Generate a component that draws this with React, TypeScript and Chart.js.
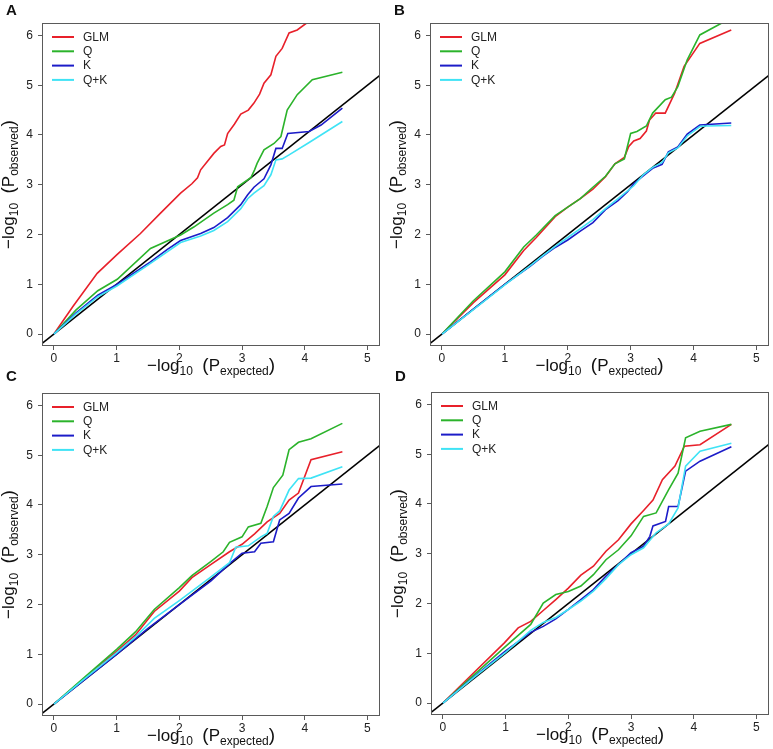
import React, { useEffect, useRef } from "react";
import { Chart, registerables } from "chart.js";

Chart.register(...registerables);

// ---------------- data (expected, observed) ----------------
const seriesNames = ["GLM", "Q", "K", "Q+K"];
const seriesColors = ["#e8202a", "#2bb32b", "#1c1cc8", "#3fe3f5"];
const xTicks = [0, 1, 2, 3, 4, 5];
const yTicks = [0, 1, 2, 3, 4, 5, 6];
const panelLetters = ["A", "B", "C", "D"];

const A_GLM = [[0,0],[0.3,0.55],[0.69,1.22],[1.01,1.6],[1.38,2.02],[1.7,2.43],[2.02,2.83],[2.2,3.02],[2.29,3.14],[2.34,3.3],[2.55,3.63],[2.66,3.77],[2.72,3.8],[2.77,4.03],[2.88,4.22],[2.98,4.42],[3.1,4.5],[3.19,4.64],[3.28,4.82],[3.35,5.04],[3.46,5.21],[3.54,5.58],[3.64,5.74],[3.75,6.05],[3.88,6.11],[4.04,6.26],[4.6,6.7]];
const A_Q = [[0,0],[0.35,0.48],[0.7,0.87],[1.01,1.1],[1.54,1.72],[2.02,1.99],[2.23,2.15],[2.55,2.43],[2.77,2.6],[2.87,2.69],[2.93,2.96],[3.14,3.14],[3.2,3.3],[3.24,3.43],[3.35,3.7],[3.51,3.83],[3.62,3.97],[3.72,4.5],[3.88,4.81],[4.12,5.11],[4.6,5.26]];
const A_K = [[0,0],[0.35,0.42],[0.7,0.78],[1.01,1.0],[1.54,1.45],[1.81,1.7],[2.02,1.88],[2.34,2.02],[2.55,2.14],[2.77,2.34],[2.98,2.6],[3.09,2.8],[3.19,2.95],[3.35,3.12],[3.46,3.4],[3.54,3.73],[3.64,3.73],[3.73,4.03],[4.07,4.07],[4.26,4.2],[4.6,4.54]];
const A_QK = [[0,0],[0.35,0.4],[0.7,0.75],[1.01,0.97],[1.54,1.42],[2.02,1.84],[2.34,1.97],[2.55,2.08],[2.77,2.26],[2.98,2.52],[3.09,2.72],[3.19,2.83],[3.35,2.98],[3.46,3.2],[3.54,3.5],[3.64,3.52],[3.75,3.6],[4.07,3.85],[4.6,4.27]];

const B_GLM = [[0,0],[0.5,0.63],[1.0,1.19],[1.3,1.68],[1.5,1.94],[1.8,2.36],[2.0,2.55],[2.2,2.72],[2.4,2.91],[2.6,3.16],[2.75,3.42],[2.9,3.55],[2.97,3.77],[3.05,3.88],[3.15,3.93],[3.25,4.08],[3.3,4.3],[3.4,4.44],[3.55,4.44],[3.7,4.84],[3.85,5.38],[4.1,5.84],[4.6,6.11]];
const B_Q = [[0,0],[0.5,0.67],[1.0,1.25],[1.3,1.75],[1.5,1.99],[1.8,2.38],[2.0,2.55],[2.2,2.72],[2.4,2.95],[2.6,3.17],[2.75,3.42],[2.9,3.52],[3.0,4.03],[3.1,4.07],[3.25,4.18],[3.35,4.44],[3.55,4.71],[3.65,4.76],[3.75,4.97],[3.9,5.51],[4.1,6.01],[4.45,6.25],[4.6,6.35]];
const B_K = [[0,0],[0.5,0.5],[1.0,1.0],[1.4,1.36],[1.6,1.56],[1.8,1.74],[2.0,1.89],[2.2,2.07],[2.4,2.24],[2.6,2.5],[2.8,2.68],[2.95,2.86],[3.05,3.02],[3.2,3.18],[3.35,3.33],[3.5,3.41],[3.6,3.66],[3.75,3.76],[3.9,4.02],[4.1,4.2],[4.6,4.24]];
const B_QK = [[0,0],[0.5,0.49],[1.0,0.99],[1.4,1.37],[1.6,1.57],[1.8,1.76],[2.0,1.94],[2.2,2.12],[2.4,2.3],[2.6,2.52],[2.8,2.72],[3.05,2.98],[3.2,3.2],[3.35,3.35],[3.5,3.45],[3.6,3.64],[3.75,3.74],[3.9,3.98],[4.1,4.17],[4.2,4.18],[4.6,4.19]];

const C_GLM = [[0,0],[0.5,0.53],[1.0,1.06],[1.3,1.39],[1.6,1.86],[2.0,2.27],[2.2,2.54],[2.5,2.8],[2.8,3.06],[3.0,3.21],[3.2,3.42],[3.4,3.66],[3.6,3.83],[3.75,4.1],[3.9,4.24],[4.1,4.91],[4.6,5.07]];
const C_Q = [[0,0],[0.5,0.55],[1.0,1.1],[1.3,1.45],[1.6,1.9],[2.0,2.34],[2.2,2.58],[2.5,2.86],[2.7,3.06],[2.8,3.25],[3.0,3.36],[3.1,3.56],[3.3,3.63],[3.4,3.97],[3.5,4.35],[3.65,4.6],[3.75,5.11],[3.9,5.26],[4.1,5.33],[4.6,5.64]];
const C_K = [[0,0],[0.5,0.5],[1.0,1.0],[1.5,1.52],[2.0,2.0],[2.5,2.47],[2.8,2.82],[3.0,3.03],[3.2,3.06],[3.3,3.23],[3.5,3.26],[3.6,3.7],[3.75,3.83],[3.9,4.14],[4.1,4.37],[4.6,4.42]];
const C_QK = [[0,0],[0.5,0.52],[1.0,1.03],[1.3,1.35],[1.6,1.72],[2.0,2.08],[2.5,2.55],[2.8,2.84],[2.9,3.15],[3.1,3.18],[3.3,3.36],[3.4,3.43],[3.5,3.77],[3.6,3.88],[3.75,4.3],[3.9,4.53],[4.1,4.54],[4.6,4.77]];

const D_GLM = [[0,0],[0.5,0.62],[0.98,1.21],[1.2,1.51],[1.4,1.64],[1.6,1.86],[1.8,2.08],[2.0,2.31],[2.2,2.57],[2.4,2.75],[2.6,3.05],[2.8,3.28],[3.0,3.6],[3.2,3.87],[3.35,4.08],[3.5,4.49],[3.7,4.76],[3.85,5.16],[4.1,5.19],[4.6,5.6]];
const D_Q = [[0,0],[0.5,0.57],[1.0,1.14],[1.4,1.58],[1.6,2.01],[1.8,2.18],[2.0,2.24],[2.2,2.35],[2.4,2.58],[2.6,2.88],[2.8,3.08],[3.0,3.36],[3.2,3.75],[3.4,3.82],[3.6,4.29],[3.75,4.62],[3.87,5.33],[4.1,5.46],[4.6,5.6]];
const D_K = [[0,0],[0.5,0.53],[1.0,1.05],[1.4,1.42],[1.6,1.54],[1.8,1.69],[2.0,1.88],[2.2,2.08],[2.4,2.28],[2.6,2.55],[2.8,2.78],[3.0,3.02],[3.2,3.15],[3.3,3.35],[3.35,3.56],[3.55,3.65],[3.6,3.95],[3.75,3.95],[3.87,4.66],[4.1,4.86],[4.6,5.15]];
const D_QK = [[0,0],[0.5,0.52],[1.0,1.02],[1.4,1.46],[1.6,1.62],[1.8,1.72],[2.0,1.88],[2.2,2.05],[2.4,2.25],[2.6,2.5],[2.8,2.78],[3.0,2.98],[3.2,3.12],[3.4,3.42],[3.6,3.6],[3.75,3.92],[3.87,4.76],[4.1,5.06],[4.6,5.22]];

const panelSeries = [
  [A_GLM, A_Q, A_K, A_QK],
  [B_GLM, B_Q, B_K, B_QK],
  [C_GLM, C_Q, C_K, C_QK],
  [D_GLM, D_Q, D_K, D_QK],
];
const diagonal = [[-0.5, -0.5], [5.5, 5.5]];

// ---------------- layout ----------------
const FONT = '"Liberation Sans", Arial, Helvetica, sans-serif';
const boxes = [
  { left: 42, top: 23, width: 338, height: 323, letterY: 15 },
  { left: 430, top: 23, width: 339, height: 323, letterY: 15 },
  { left: 42, top: 393, width: 338, height: 323, letterY: 381 },
  { left: 431, top: 392, width: 338, height: 323, letterY: 381 },
];
const PAD_L = 42, PAD_T = 23, PAD_R = 6, PAD_B = 10, X_AX_H = 24;

type Part = { t: string; s: number; dy?: number };

function drawRich(ctx: CanvasRenderingContext2D, parts: Part[], cx: number, baseY: number) {
  let total = 0;
  for (const p of parts) {
    ctx.font = `${p.s}px ${FONT}`;
    total += ctx.measureText(p.t).width;
  }
  let x = cx - total / 2;
  ctx.textAlign = "left";
  ctx.textBaseline = "alphabetic";
  for (const p of parts) {
    ctx.font = `${p.s}px ${FONT}`;
    ctx.fillText(p.t, x, baseY + (p.dy || 0));
    x += ctx.measureText(p.t).width;
  }
}

function titleParts(sub: string): Part[] {
  return [
    { t: "\u2212log", s: 17 },
    { t: "10", s: 12, dy: 4 },
    { t: "  ", s: 17 },
    { t: "(", s: 19 },
    { t: "P", s: 17 },
    { t: sub, s: 12, dy: 4 },
    { t: ")", s: 19 },
  ];
}

function Panel({ idx }: { idx: number }) {
  const ref = useRef<HTMLCanvasElement>(null);
  const box = boxes[idx];
  const cw = box.width + PAD_L + PAD_R;
  const ch = box.height + PAD_T + X_AX_H + PAD_B;
  const cLeft = box.left - PAD_L;
  const cTop = box.top - PAD_T;

  useEffect(() => {
    if (!ref.current) return;
    const series = panelSeries[idx];
    const datasets: any[] = series.map((pts, i) => ({
      label: seriesNames[i],
      data: pts.map(([x, y]) => ({ x, y })),
      borderColor: seriesColors[i],
      backgroundColor: seriesColors[i],
      borderWidth: 1.6,
      pointRadius: 0,
      tension: 0,
      order: 3 - i,
    }));
    datasets.push({
      label: "diag",
      data: diagonal.map(([x, y]) => ({ x, y })),
      borderColor: "#000",
      borderWidth: 1.6,
      pointRadius: 0,
      order: 10,
    });

    const decor = {
      id: "decor",
      afterDraw(chart: any) {
        const ctx = chart.ctx as CanvasRenderingContext2D;
        const a = chart.chartArea;
        ctx.save();
        // box
        ctx.strokeStyle = "#5a5a5a";
        ctx.lineWidth = 1;
        ctx.strokeRect(a.left + 0.5, a.top + 0.5, a.right - a.left - 1, a.bottom - a.top - 1);
        // legend
        ctx.lineWidth = 2;
        for (let i = 0; i < seriesNames.length; i++) {
          const y = a.top + 14 + i * 14.3;
          ctx.strokeStyle = seriesColors[i];
          ctx.beginPath();
          ctx.moveTo(a.left + 10, y);
          ctx.lineTo(a.left + 32, y);
          ctx.stroke();
          ctx.fillStyle = "#222";
          ctx.font = `12px ${FONT}`;
          ctx.textAlign = "left";
          ctx.textBaseline = "middle";
          ctx.fillText(seriesNames[i], a.left + 41, y + 0.5);
        }
        // panel letter
        ctx.fillStyle = "#111";
        ctx.font = `bold 15px ${FONT}`;
        ctx.textAlign = "left";
        ctx.textBaseline = "alphabetic";
        ctx.fillText(panelLetters[idx], a.left - 36, box.letterY - cTop);
        // x title
        ctx.fillStyle = "#111";
        drawRich(ctx, titleParts("expected"), (a.left + a.right) / 2, a.bottom + 25);
        // y title
        ctx.translate(a.left - 28, (a.top + a.bottom) / 2);
        ctx.rotate(-Math.PI / 2);
        drawRich(ctx, titleParts("observed"), 0, 0);
        ctx.restore();
      },
    };

    const tickFont = { family: FONT, size: 12 };
    const chart = new Chart(ref.current, {
      type: "line",
      data: { datasets },
      options: {
        animation: false,
        responsive: false,
        maintainAspectRatio: false,
        layout: { padding: { left: 0, top: PAD_T, right: PAD_R, bottom: PAD_B } },
        plugins: { legend: { display: false }, tooltip: { enabled: false } },
        scales: {
          x: {
            type: "linear",
            min: -0.19,
            max: 5.2,
            afterBuildTicks: (s: any) => { s.ticks = xTicks.map((v) => ({ value: v })); },
            afterFit: (s: any) => { s.height = X_AX_H; },
            ticks: { font: tickFont, color: "#222", padding: 1, maxRotation: 0 },
            grid: { drawOnChartArea: false, drawTicks: true, tickLength: 4, color: "#5a5a5a" },
            border: { display: false },
          },
          y: {
            type: "linear",
            min: -0.24,
            max: 6.25,
            afterBuildTicks: (s: any) => { s.ticks = yTicks.map((v) => ({ value: v })); },
            afterFit: (s: any) => { s.width = PAD_L; },
            ticks: { font: tickFont, color: "#222", padding: 5 },
            grid: { drawOnChartArea: false, drawTicks: true, tickLength: 4, color: "#5a5a5a" },
            border: { display: false },
          },
        },
      } as any,
      plugins: [decor],
    });
    return () => chart.destroy();
  }, [idx]);

  return (
    <canvas
      ref={ref}
      width={cw}
      height={ch}
      style={{ position: "absolute", left: cLeft, top: cTop, width: cw, height: ch }}
    />
  );
}

export default function App() {
  return (
    <div style={{ position: "absolute", left: 0, top: 0, width: 773, height: 749, background: "#fff" }}>
      {[0, 1, 2, 3].map((i) => (
        <Panel key={i} idx={i} />
      ))}
    </div>
  );
}
